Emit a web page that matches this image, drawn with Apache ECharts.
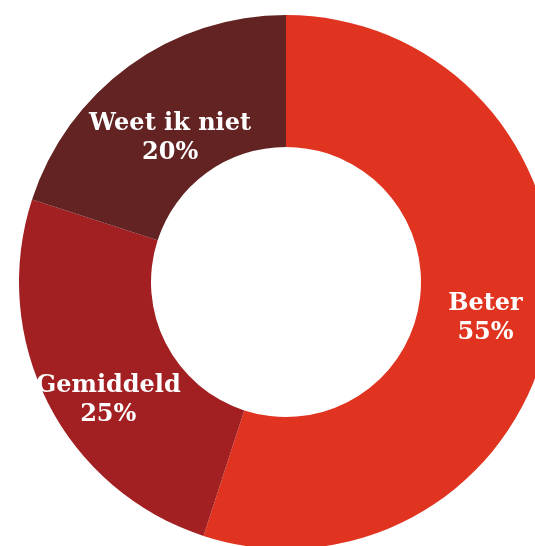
<!DOCTYPE html>
<html>
<head>
<meta charset="utf-8">
<script src="https://cdn.jsdelivr.net/npm/echarts@6/dist/echarts.min.js"></script>
<style>
  html, body { margin: 0; padding: 0; background: #fff; }
  #chart { width: 535px; height: 546px; }
</style>
</head>
<body>
<div id="chart"></div>
<script>
// categories and shares (%)
var categories = ['Beter', 'Gemiddeld', 'Weet ik niet'];
var shares = [55, 25, 20];
var colors = ['#E03320', '#A21F22', '#622322'];
// nudge of each label away from the ring's mid radius
var labelOffsets = [[-2, 4], [4, 26], [4, 21]];

var chart = echarts.init(document.getElementById('chart'));

var data = categories.map(function (name, i) {
    return {
        name: name,
        value: shares[i],
        itemStyle: { color: colors[i] },
        label: { offset: labelOffsets[i] }
    };
});

var option = {
    animation: false,
    series: [
        {
            type: 'pie',
            center: [286, 282],
            radius: [135, 267],
            startAngle: 90,
            clockwise: true,
            avoidLabelOverlap: false,
            label: {
                show: true,
                position: 'inside',
                color: '#fff',
                fontFamily: 'DejaVu Serif',
                fontWeight: 'bold',
                fontSize: 24,
                lineHeight: 29,
                formatter: function (p) { return p.name + '\n' + p.value + '%'; }
            },
            labelLine: { show: false },
            emphasis: { disabled: true },
            data: data
        }
    ]
};

chart.setOption(option);
</script>
</body>
</html>
